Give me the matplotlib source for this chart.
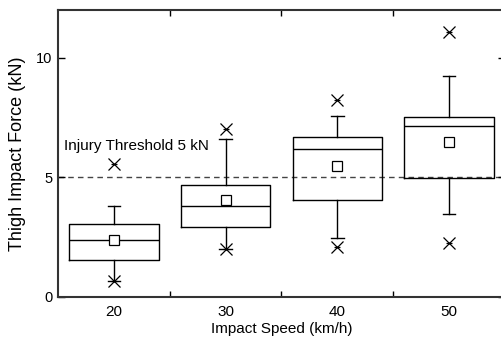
import matplotlib
matplotlib.use("Agg")
import matplotlib.pyplot as plt
from matplotlib.ticker import FixedLocator

plt.rcParams['font.family'] = ['Liberation Sans', 'DejaVu Sans']

speeds = ["20", "30", "40", "50"]
q1 = [1.54, 2.93, 4.04, 4.99]
median = [2.39, 3.80, 6.20, 7.13]
q3 = [3.04, 4.67, 6.71, 7.54]
whislo = [0.65, 2.00, 2.47, 3.49]
whishi = [3.80, 6.62, 7.55, 9.26]
means = [2.37, 4.07, 5.48, 6.47]
mins = [0.65, 2.00, 2.10, 2.26]
maxs = [5.58, 7.04, 8.22, 11.07]
threshold = 5

fig = plt.figure(figsize=(5.02, 3.39), dpi=100)
ax = fig.add_axes([58/502, 42/339, 447/502, 287/339])

pos = list(range(1, len(speeds) + 1))
stats = []
for i in range(len(speeds)):
    stats.append(dict(med=median[i], q1=q1[i], q3=q3[i], whislo=whislo[i],
                      whishi=whishi[i], fliers=[], mean=means[i]))
lp = dict(color='black', linewidth=1.0)
ax.bxp(stats, positions=pos, widths=0.8, showmeans=True, showfliers=False,
       boxprops=lp, medianprops=lp, whiskerprops=lp, capprops=lp,
       capwidths=0.11,
       meanprops=dict(marker='s', markerfacecolor='white', markeredgecolor='black',
                      markersize=7, markeredgewidth=0.9))

for i, p in enumerate(pos):
    for v in (mins[i], maxs[i]):
        ax.plot(p, v, marker='x', color='black', markersize=8.5, markeredgewidth=0.9, zorder=4)
        ax.plot(p, v, marker='_', color='black', markersize=5, markeredgewidth=0.9, zorder=4)

ax.axhline(threshold, color='#444444', linestyle=(0, (4, 3)), linewidth=1.0, zorder=1)
ax.text(0.55, 6.3, "Injury Threshold 5 kN", fontsize=11, va='center', ha='left')

ax.set_xlim(0.5, 4.5)
ax.set_ylim(0, 12)
ax.set_xticks(pos)
ax.set_xticklabels(speeds)
ax.tick_params(axis='x', which='major', length=0, labelsize=11, pad=6)
ax.xaxis.set_minor_locator(FixedLocator([1.5, 2.5, 3.5]))
ax.tick_params(axis='x', which='minor', direction='in', length=4, top=True, bottom=True, width=1.0)
ax.set_yticks([0, 5, 10])
ax.tick_params(axis='y', which='major', direction='in', length=5, left=True, right=True,
               labelsize=10.5, width=1.0, pad=4)

for s in ax.spines.values():
    s.set_linewidth(1.5)
    s.set_color('#333333')

ax.set_xlabel("Impact Speed (km/h)", fontsize=11, labelpad=2)
ax.set_ylabel("Thigh Impact Force (kN)", fontsize=13, labelpad=7)

fig.savefig("out.png", dpi=100)
